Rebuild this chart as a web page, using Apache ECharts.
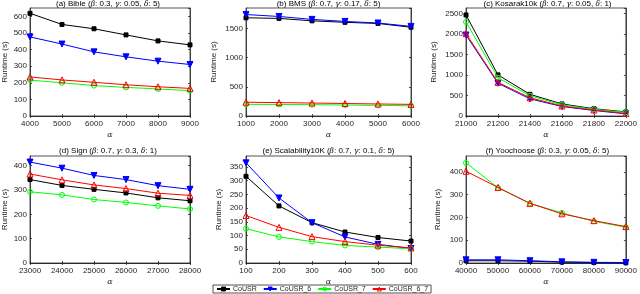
<!DOCTYPE html>
<html><head><meta charset="utf-8">
<script src="https://cdn.jsdelivr.net/npm/echarts@6/dist/echarts.min.js"></script>
<style>html,body{margin:0;padding:0;background:#fff}#c{width:640px;height:294px}</style>
</head><body><div id="c"></div><script>
// ---- data ----
const seriesNames = ['CoUSR', 'CoUSR_6', 'CoUSR_7', 'CoUSR_6_7'];
const panelTitles = [
  ['(a) Bible (', 'β', ': 0.3, ', 'γ', ': 0.05, ', 'δ', ': 5)'],
  ['(b) BMS (', 'β', ': 0.7, ', 'γ', ': 0.17, ', 'δ', ': 5)'],
  ['(c) Kosarak10k (', 'β', ': 0.7, ', 'γ', ': 0.05, ', 'δ', ': 1)'],
  ['(d) Sign (', 'β', ': 0.7, ', 'γ', ': 0.3, ', 'δ', ': 1)'],
  ['(e) Scalability10K (', 'β', ': 0.7, ', 'γ', ': 0.1, ', 'δ', ': 5)'],
  ['(f) Yoochoose (', 'β', ': 0.3, ', 'γ', ': 0.05, ', 'δ', ': 5)']
];
const xAxisName = 'α';
const yAxisName = 'Runtime (s)';

const xBible = [4000, 5000, 6000, 7000, 8000, 9000];
const bibleCoUSR = [618, 551, 525, 488, 452, 428];
const bibleCoUSR6 = [476, 433, 386, 356, 330, 310];
const bibleCoUSR7 = [216, 200, 183, 172, 163, 152];
const bibleCoUSR67 = [235, 217, 203, 188, 176, 166];

const xBMS = [1000, 2000, 3000, 4000, 5000, 6000];
const bmsCoUSR = [1682, 1672, 1630, 1605, 1585, 1520];
const bmsCoUSR6 = [1738, 1705, 1655, 1620, 1593, 1535];
const bmsCoUSR7 = [200, 198, 194, 188, 182, 175];
const bmsCoUSR67 = [236, 229, 222, 214, 206, 199];

const xKosarak = [21000, 21200, 21400, 21600, 21800, 22000];
const kosCoUSR = [2470, 1005, 530, 295, 178, 100];
const kosCoUSR6 = [1980, 800, 420, 232, 135, 52];
const kosCoUSR7 = [2300, 935, 495, 275, 165, 90];
const kosCoUSR67 = [2015, 822, 445, 245, 148, 62];

const xSign = [23000, 24000, 25000, 26000, 27000, 28000];
const signCoUSR = [343, 319, 303, 288, 268, 256];
const signCoUSR6 = [415, 390, 360, 343, 318, 303];
const signCoUSR7 = [293, 280, 261, 249, 235, 222];
const signCoUSR67 = [366, 342, 321, 306, 287, 278];

const xScal = [100, 200, 300, 400, 500, 600];
const scalCoUSR = [316, 208, 147, 113, 93, 80];
const scalCoUSR6 = [365, 237, 147, 95, 68, 53];
const scalCoUSR7 = [125, 95, 78, 64, 58, 52];
const scalCoUSR67 = [173, 130, 96, 78, 65, 55];

const xYoo = [40000, 50000, 60000, 70000, 80000, 90000];
const yooCoUSR = [10, 10, 8, 4, 2, 1];
const yooCoUSR6 = [14, 14, 10, 5, 3, 2];
const yooCoUSR7 = [440, 330, 262, 220, 183, 157];
const yooCoUSR67 = [403, 332, 262, 216, 186, 160];

const panelX = [xBible, xBMS, xKosarak, xSign, xScal, xYoo];
const panelY = [
  [bibleCoUSR, bibleCoUSR6, bibleCoUSR7, bibleCoUSR67],
  [bmsCoUSR, bmsCoUSR6, bmsCoUSR7, bmsCoUSR67],
  [kosCoUSR, kosCoUSR6, kosCoUSR7, kosCoUSR67],
  [signCoUSR, signCoUSR6, signCoUSR7, signCoUSR67],
  [scalCoUSR, scalCoUSR6, scalCoUSR7, scalCoUSR67],
  [yooCoUSR, yooCoUSR6, yooCoUSR7, yooCoUSR67]
];
const yMax = [650, 1850, 2640, 440, 390, 470];
const yStep = [100, 500, 500, 100, 50, 100];
const xStep = [1000, 1000, 200, 1000, 100, 10000];

// ---- layout / style ----
const gridBox = [
  {left: 26, top: 8, width: 164, height: 108},
  {left: 246, top: 8, width: 165, height: 108},
  {left: 466, top: 8, width: 163, height: 108},
  {left: 26, top: 156, width: 164, height: 107},
  {left: 246, top: 156, width: 165, height: 107},
  {left: 466, top: 156, width: 163, height: 107}
];
const titleTop = [0, 0, 0, 147, 147, 147];
const yNameGap = [21, 28, 28, 21, 23, 24];
const FONT = 'Liberation Sans, Arial, Helvetica, sans-serif';
const AX = '#262626';
const colors = ['#000000', '#0000ff', '#00ff00', '#ff0000'];
const symbols = ['rect', 'triangle', 'circle', 'triangle'];
const symRot = [0, 180, 0, 0];
const symSize = [4, 6, 5, 6];
const symFill = ['#000000', '#0000ff', 'rgba(255,255,255,0)', 'rgba(255,255,255,0)'];
const plain = v => String(v);

const grids = [], xAxes = [], yAxes = [], series = [], titles = [];
panelX.forEach((xs, p) => {
  const g = gridBox[p];
  grids.push({left: g.left, top: g.top, width: g.width, height: g.height,
    show: true, borderColor: AX, borderWidth: 0.8, backgroundColor: '#fff', containLabel: false});
  const xmin = xs[0], xmax = xs[xs.length - 1];
  const common = {gridIndex: p, splitLine: {show: false},
    axisLine: {show: true, lineStyle: {color: AX, width: 0.8}},
    axisTick: {show: true, inside: true, length: 2, lineStyle: {color: AX, width: 0.8}}};
  xAxes.push(Object.assign({}, common, {type: 'value', min: xmin, max: xmax, interval: xStep[p],
    name: xAxisName, nameLocation: 'middle', nameGap: 15,
    nameTextStyle: {fontFamily: 'DejaVu Serif, serif', fontStyle: 'italic', fontSize: 8, color: AX},
    axisLabel: {fontFamily: FONT, fontSize: 8, color: AX, margin: 4, formatter: plain,
      showMinLabel: true, showMaxLabel: true}}));
  xAxes.push(Object.assign({}, common, {type: 'value', position: 'top', min: xmin, max: xmax, interval: xStep[p],
    axisLabel: {show: false}}));
  yAxes.push(Object.assign({}, common, {type: 'value', min: 0, max: yMax[p], interval: yStep[p],
    name: yAxisName, nameLocation: 'middle', nameGap: yNameGap[p],
    nameTextStyle: {fontFamily: FONT, fontSize: 8, color: AX},
    axisLabel: {fontFamily: FONT, fontSize: 8, color: AX, margin: 3, formatter: plain, showMaxLabel: false}}));
  yAxes.push(Object.assign({}, common, {type: 'value', position: 'right', min: 0, max: yMax[p], interval: yStep[p],
    axisLabel: {show: false}}));
  panelY[p].forEach((ys, s) => {
    series.push({
      name: seriesNames[s], type: 'line', xAxisIndex: 2 * p, yAxisIndex: 2 * p,
      data: xs.map((x, i) => [x, ys[i]]),
      symbol: symbols[s], symbolRotate: symRot[s], symbolSize: symSize[s], showAllSymbol: true,
      lineStyle: {color: colors[s], width: 1},
      itemStyle: {color: symFill[s], borderColor: colors[s], borderWidth: 1},
      emphasis: {disabled: true}, animation: false, z: 2 + s
    });
  });
  const t = panelTitles[p];
  titles.push({
    text: t[0] + '{i|' + t[1] + '}' + t[2] + '{i|' + t[3] + '}' + t[4] + '{i|' + t[5] + '}' + t[6],
    left: g.left + g.width / 2, top: titleTop[p], textAlign: 'center', padding: 0,
    textStyle: {fontFamily: FONT, fontSize: 8, fontWeight: 'normal', color: '#000', lineHeight: 8,
      rich: {i: {fontFamily: 'DejaVu Serif, serif', fontStyle: 'italic', fontSize: 7.5, color: '#000', lineHeight: 8}}}
  });
});

const chart = echarts.init(document.getElementById('c'), null, {renderer: 'canvas'});
chart.setOption({
  backgroundColor: '#fff',
  animation: false,
  title: titles,
  grid: grids,
  xAxis: xAxes,
  yAxis: yAxes,
  legend: {
    data: seriesNames.map((n, s) => ({name: n, itemStyle: {color: symFill[s], borderColor: colors[s], borderWidth: 1}})),
    left: 213, top: 285, orient: 'horizontal', padding: [0, 3, 0, 3],
    itemWidth: 13, itemHeight: 5, itemGap: 6,
    borderColor: AX, borderWidth: 0.8, backgroundColor: '#fff',
    textStyle: {fontFamily: FONT, fontSize: 7, color: AX, lineHeight: 8, padding: [0, 0, 0, -2]}
  },
  series: series
});
</script></body></html>
